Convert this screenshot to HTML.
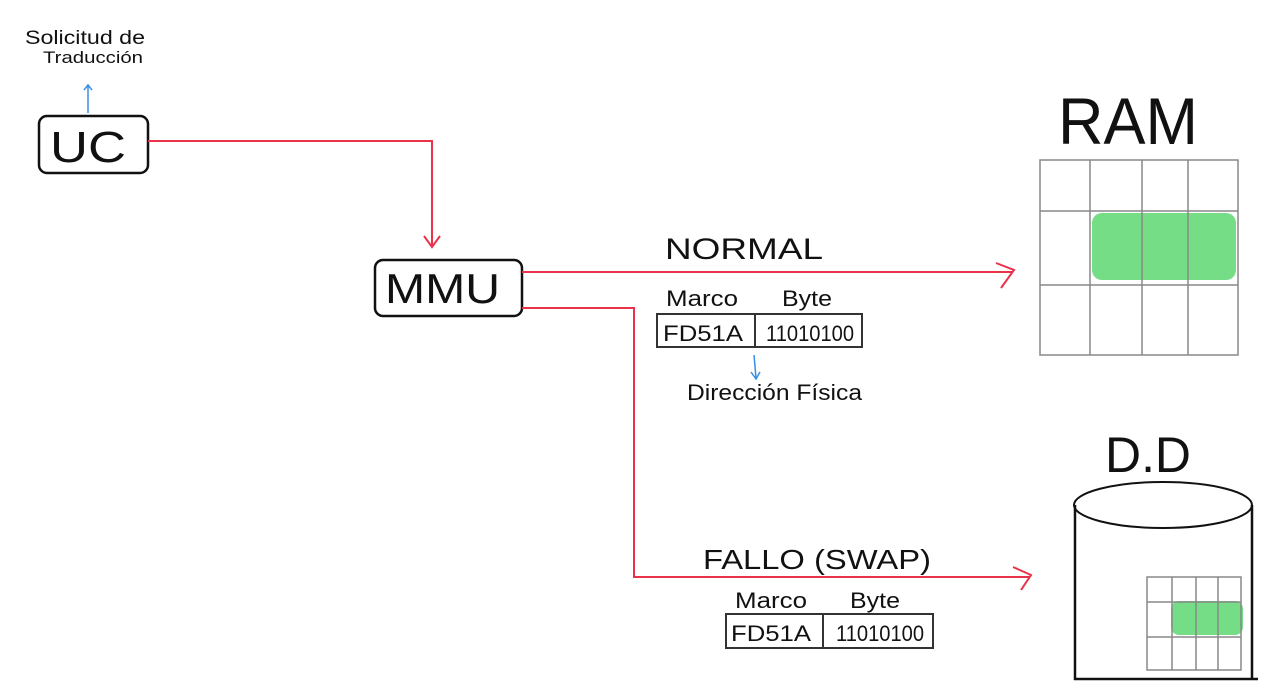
<!DOCTYPE html>
<html><head><meta charset="utf-8"><style>
html,body{margin:0;padding:0;background:#fff;}
svg{display:block}
text{font-family:"Liberation Sans",sans-serif;fill:#111;}
</style></head><body>
<svg width="1280" height="700" viewBox="0 0 1280 700" xmlns="http://www.w3.org/2000/svg">
<!-- Solicitud -->
<text x="25" y="44" font-size="19" textLength="120" lengthAdjust="spacingAndGlyphs">Solicitud de</text>
<text x="43" y="63" font-size="17" textLength="100" lengthAdjust="spacingAndGlyphs">Traducción</text>
<line x1="88" y1="113" x2="88" y2="86" stroke="#3a8ee6" stroke-width="1.5"/>
<polyline points="84,90 88,85 92,90" fill="none" stroke="#3a8ee6" stroke-width="1.5"/>
<!-- UC -->
<rect x="39" y="116" width="109" height="57" rx="8" fill="#fff" stroke="#111" stroke-width="2.5"/>
<text x="50" y="162" font-size="44" textLength="76" lengthAdjust="spacingAndGlyphs">UC</text>
<!-- red UC->MMU -->
<polyline points="148,141 432,141 432,247" fill="none" stroke="#e8334a" stroke-width="2"/>
<polyline points="424,236 432,247 440,236" fill="none" stroke="#e8334a" stroke-width="2"/>
<!-- MMU -->
<rect x="375" y="260" width="147" height="56" rx="8" fill="#fff" stroke="#111" stroke-width="2.5"/>
<text x="385" y="303" font-size="42" textLength="115" lengthAdjust="spacingAndGlyphs">MMU</text>
<!-- normal line -->
<line x1="522" y1="272" x2="1012" y2="272" stroke="#e8334a" stroke-width="2"/>
<polyline points="996,263 1014,270 1001,288" fill="none" stroke="#e8334a" stroke-width="2"/>
<text x="665" y="259" font-size="30" textLength="158" lengthAdjust="spacingAndGlyphs">NORMAL</text>
<text x="666" y="306" font-size="22" textLength="72" lengthAdjust="spacingAndGlyphs">Marco</text>
<text x="782" y="306" font-size="22" textLength="50" lengthAdjust="spacingAndGlyphs">Byte</text>
<rect x="657" y="314" width="205" height="33" fill="none" stroke="#333" stroke-width="2"/>
<line x1="755" y1="314" x2="755" y2="347" stroke="#333" stroke-width="2"/>
<text x="663" y="341" font-size="22" textLength="80" lengthAdjust="spacingAndGlyphs">FD51A</text>
<text x="766" y="341" font-size="22" textLength="88" lengthAdjust="spacingAndGlyphs">11010100</text>
<line x1="754" y1="355" x2="756" y2="378" stroke="#3a8ee6" stroke-width="1.5"/>
<polyline points="751,372 756,379 760,372" fill="none" stroke="#3a8ee6" stroke-width="1.5"/>
<text x="687" y="400" font-size="22" textLength="175" lengthAdjust="spacingAndGlyphs">Dirección Física</text>
<!-- fallo line -->
<polyline points="522,308 634,308 634,577 1030,577" fill="none" stroke="#e8334a" stroke-width="2"/>
<polyline points="1013,567 1031,575 1021,590" fill="none" stroke="#e8334a" stroke-width="2"/>
<text x="703" y="569" font-size="28" textLength="228" lengthAdjust="spacingAndGlyphs">FALLO (SWAP)</text>
<text x="735" y="608" font-size="22" textLength="72" lengthAdjust="spacingAndGlyphs">Marco</text>
<text x="850" y="608" font-size="22" textLength="50" lengthAdjust="spacingAndGlyphs">Byte</text>
<rect x="726" y="614" width="207" height="34" fill="none" stroke="#333" stroke-width="2"/>
<line x1="823" y1="614" x2="823" y2="648" stroke="#333" stroke-width="2"/>
<text x="731" y="641" font-size="22" textLength="80" lengthAdjust="spacingAndGlyphs">FD51A</text>
<text x="836" y="641" font-size="22" textLength="88" lengthAdjust="spacingAndGlyphs">11010100</text>
<!-- RAM -->
<text x="1058" y="144" font-size="66" textLength="140" lengthAdjust="spacingAndGlyphs" font-weight="normal">RAM</text>
<rect x="1092" y="213" width="144" height="67" rx="10" fill="#74dd85"/>
<g stroke="#888" stroke-width="1.5" fill="none">
<rect x="1040" y="160" width="198" height="195"/>
<line x1="1090" y1="160" x2="1090" y2="355"/>
<line x1="1142" y1="160" x2="1142" y2="355"/>
<line x1="1188" y1="160" x2="1188" y2="355"/>
<line x1="1040" y1="211" x2="1238" y2="211"/>
<line x1="1040" y1="285" x2="1238" y2="285"/>
</g>
<!-- D.D -->
<text x="1105" y="472" font-size="50" textLength="86" lengthAdjust="spacingAndGlyphs">D.D</text>
<ellipse cx="1163" cy="505" rx="89" ry="23" fill="#fff" stroke="#111" stroke-width="2"/>
<line x1="1075" y1="505" x2="1075" y2="680" stroke="#111" stroke-width="2.5"/>
<line x1="1252" y1="505" x2="1252" y2="680" stroke="#111" stroke-width="2.5"/>
<line x1="1074" y1="679" x2="1258" y2="679" stroke="#111" stroke-width="2.5"/>
<rect x="1171" y="601" width="72" height="34" rx="8" fill="#74dd85"/>
<g stroke="#888" stroke-width="1.5" fill="none">
<rect x="1147" y="577" width="94" height="93"/>
<line x1="1172" y1="577" x2="1172" y2="670"/>
<line x1="1196" y1="577" x2="1196" y2="670"/>
<line x1="1218" y1="577" x2="1218" y2="670"/>
<line x1="1147" y1="602" x2="1241" y2="602"/>
<line x1="1147" y1="637" x2="1241" y2="637"/>
</g>
</svg>
</body></html>
